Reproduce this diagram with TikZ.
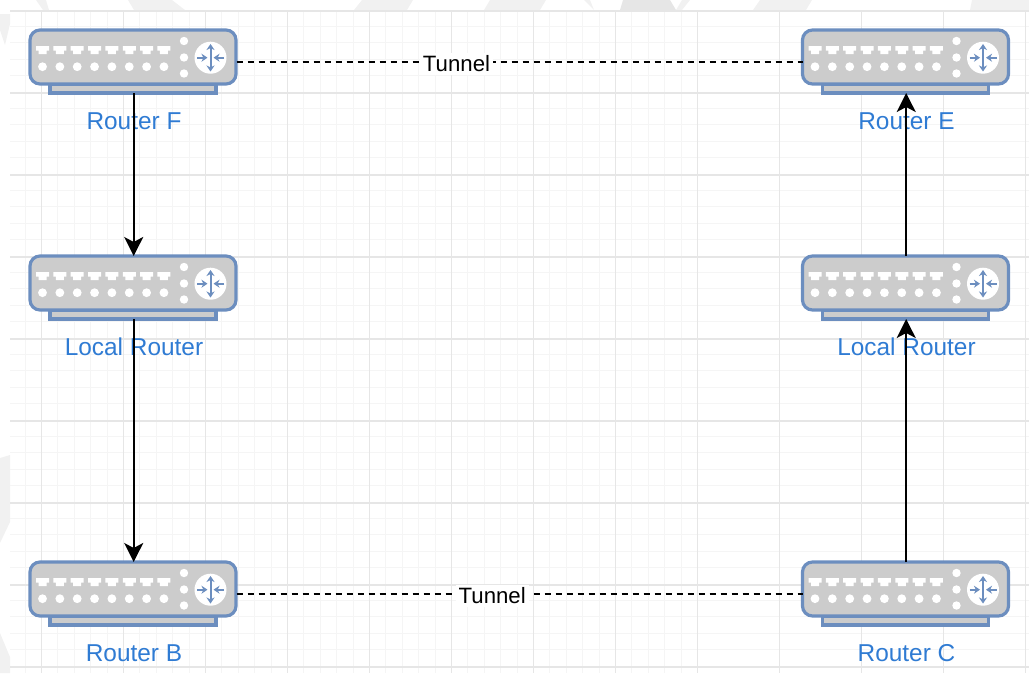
\documentclass[tikz,border=0pt]{standalone}
\usepackage{fontspec}
\setmainfont{Liberation Sans}
\usetikzlibrary{arrows.meta}

\definecolor{routerblue}{HTML}{6C8EBF}
\definecolor{routergray}{HTML}{CCCCCC}
\definecolor{labelblue}{HTML}{2F7BD3}
\definecolor{gridmajor}{HTML}{E6E6E6}
\definecolor{gridminor}{HTML}{F5F5F5}
\definecolor{markgray}{HTML}{F1F1F1}

\tikzset{
  routerbox/.style={minimum width=206pt,minimum height=63pt,inner sep=0pt,outer sep=0pt},
  routerlabel/.style={text=labelblue,font=\fontsize{24.4}{24}\selectfont,inner sep=0pt},
  tunnellabel/.style={fill=white,font=\fontsize{22.2}{22}\selectfont,inner sep=3pt,yshift=-2.5pt},
  routerline/.style={draw=routerblue,fill=routergray,line width=3.2pt},
  flow/.style={line width=2.2pt,-{Stealth[length=19pt,width=19pt,inset=5pt]}},
  tunnel/.style={line width=2pt,dash pattern=on 6.5pt off 4.5pt},
  iconline/.style={routerblue,line width=2pt},
  seam/.style={fill=markgray,draw=none}
}

% one router, #3 and #4 are the top left corner of its body
\newcommand{\Router}[5]{
  \begin{scope}[shift={(#3,#4)}]
    \draw[routerline] (20,54) rectangle (186,63);
    \draw[routerline,rounded corners=10pt] (0,0) rectangle (206,54);
    \foreach \i in {0,...,7} {
      \fill[white] (12.5+17.35*\i-6.5,16) -- ++(13,0) -- ++(0,4.5) -- ++(-2.5,0) -- ++(0,3.5)
        -- ++(-8,0) -- ++(0,-3.5) -- ++(-2.5,0) -- cycle;
      \fill[white] (12.5+17.35*\i,36.7) circle [radius=4.4];
    }
    \foreach \j in {11,27.5,43.5}
      \fill[white] (154,\j) circle [radius=4.2];
    \fill[white] (180.5,27.7) circle [radius=16];
    \draw[iconline,{Stealth[length=6pt,width=8pt]}-{Stealth[length=6pt,width=8pt]}] (180.5,14) -- (180.5,41.5);
    \draw[iconline,-{Stealth[length=6pt,width=8pt]}] (167,27.7) -- (177.5,27.7);
    \draw[iconline,-{Stealth[length=6pt,width=8pt]}] (194,27.7) -- (183.5,27.7);
  \end{scope}
  \node[routerbox] (#1) at (#3+103.7,#4+31.5) {};
  \node[routerlabel] (#2) at (#3+104,#4+91) {#5};
}

\begin{document}
\begin{tikzpicture}[x=1pt,y=-1pt]
  \useasboundingbox (0,0) rectangle (1029,673);

  % marks round the sheet
  \fill[seam] (36,0) -- (46,0) -- (49,10) -- (43,10) -- cycle;
  \fill[seam] (128,0) -- (172,0) -- (185,10) -- (134,10) -- cycle;
  \fill[seam] (362,0) -- (413,0) -- (407,10) -- (354,10) -- cycle;
  \fill[seam] (490,0) -- (546,0) -- (540,10) -- (484,10) -- cycle;
  \fill[seam] (584,0) -- (590,0) -- (594,10) -- cycle;
  \fill[gridmajor] (623,0) -- (670,0) -- (676,10) -- (620,10) -- cycle;
  \fill[seam] (676,10) -- (682,0) -- (690,0) -- (682,10) -- cycle;
  \fill[seam] (760,0) -- (812,0) -- (806,10) -- (753,10) -- cycle;
  \fill[seam] (972,0) -- (1029,0) -- (1029,10) -- (970,10) -- cycle;
  \fill[seam] (0,14) -- (10,14) -- (10,24) -- (5,45) -- (0,30) -- cycle;
  \fill[seam] (0,458) -- (10,455) -- (10,522) -- (0,543) -- cycle;
  \fill[seam] (0,633) -- (10,657) -- (10,673) -- (0,673) -- cycle;

  % grid
  \foreach \k in {0,...,40} {
    \draw[gridminor,line width=1pt] (10,10+16.4*\k) -- (1029,10+16.4*\k);
    \draw[gridminor,line width=1pt] (25.1+16.4*\k,10) -- (25.1+16.4*\k,673);
  }
  \foreach \k in {0,...,8}
    \draw[gridmajor,line width=1.3pt] (10,11+82*\k) -- (1029,11+82*\k);
  \foreach \k in {0,...,12}
    \draw[gridmajor,line width=1.3pt] (41.5+82*\k,10) -- (41.5+82*\k,673);

  \Router{routerF}{labelF}{30}{30}{Router F}
  \Router{localL}{labelL}{30}{256}{Local Router}
  \Router{routerB}{labelB}{30}{562}{Router B}
  \Router{routerE}{labelE}{802.5}{30}{Router E}
  \Router{localR}{labelR}{802.5}{256}{Local Router}
  \Router{routerC}{labelC}{802.5}{562}{Router C}

  % traffic
  \draw[flow] (routerF.south) -- (localL.north);
  \draw[flow] (localL.south) -- (routerB.north);
  \draw[flow] (routerC.north) -- (localR.south);
  \draw[flow] (localR.north) -- (routerE.south);

  % tunnels
  \draw[tunnel] (routerF.east) -- node[tunnellabel,pos=.388] (tunnelT) {Tunnel} (routerE.west);
  \draw[tunnel] (routerB.east) -- node[tunnellabel,pos=.451] (tunnelB) {Tunnel} (routerC.west);
\end{tikzpicture}
\end{document}
